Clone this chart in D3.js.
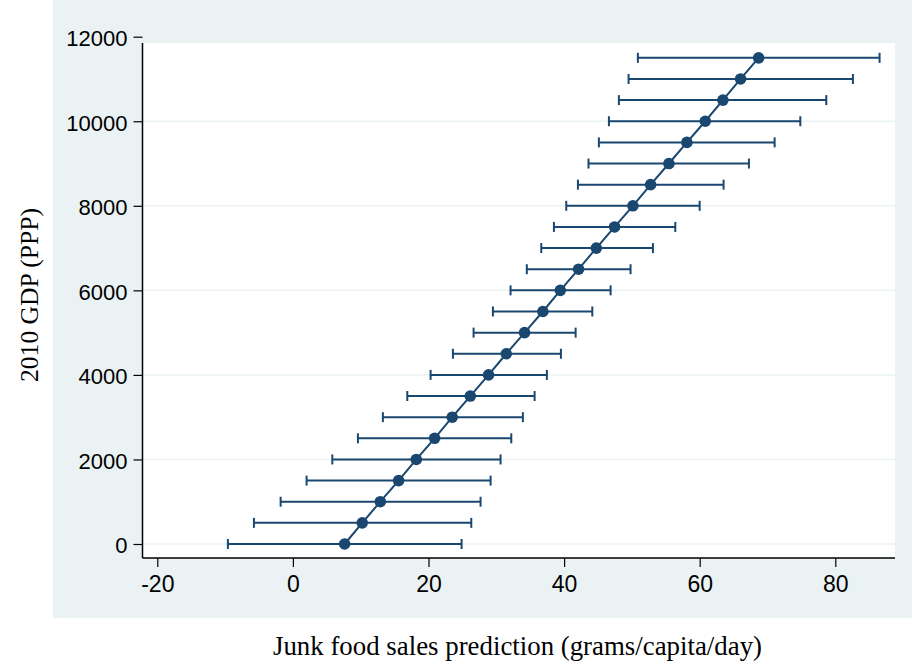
<!DOCTYPE html>
<html><head><meta charset="utf-8">
<script src="https://cdn.jsdelivr.net/npm/d3@7"></script>
<style>body{margin:0;background:#fff}svg{display:block}</style>
</head><body>
<svg id="c" width="912" height="665"></svg>
<script>
const gdp = [0,500,1000,1500,2000,2500,3000,3500,4000,4500,5000,5500,6000,6500,7000,7500,8000,8500,9000,9500,10000,10500,11000,11500];
const pred = [7.63,10.23,12.89,15.59,18.2,20.9,23.5,26.16,28.86,31.47,34.17,36.87,39.44,42.14,44.75,47.45,50.15,52.76,55.46,58.11,60.82,63.42,66.03,68.69];
const lower = [-9.59,-5.75,-1.81,2.02,5.81,9.59,13.27,16.87,20.31,23.6,26.65,29.5,32.1,34.5,36.63,38.5,40.32,42.04,43.6,45.13,46.61,48.08,49.51,50.88];
const upper = [24.88,26.31,27.68,29.16,30.63,32.21,33.92,35.65,37.46,39.53,41.7,44.16,46.86,49.8,53.1,56.4,59.99,63.52,67.26,71.05,74.84,78.67,82.6,86.53];
const xTicks = [-20,0,20,40,60,80];
const yTicks = [0,2000,4000,6000,8000,10000,12000];
const xTitle = "Junk food sales prediction (grams/capita/day)";
const yTitle = "2010 GDP (PPP)";

const data = gdp.map((g,i)=>({g, p:pred[i], lo:lower[i], hi:upper[i]}));
const navy = "#1a476f", bg = "#eaf2f3";
const svg = d3.select("#c");
const plot = {l:142.5, r:895, t:43, b:558};

svg.append("rect").attr("x",53).attr("y",0).attr("width",859).attr("height",618).attr("fill",bg);
svg.append("rect").attr("x",plot.l).attr("y",plot.t).attr("width",plot.r-plot.l).attr("height",plot.b-plot.t).attr("fill","#fff");

const x = d3.scaleLinear().domain([-20,80]).range([157.3,835.3]);
const y = d3.scaleLinear().domain([0,12000]).range([544,36.7]);

// gridlines
svg.append("g").selectAll("line").data(yTicks.filter(v=>y(v)>plot.t)).join("line")
  .attr("x1",plot.l).attr("x2",plot.r).attr("y1",d=>y(d)).attr("y2",d=>y(d))
  .attr("stroke",bg).attr("stroke-width",1.5);

// axes
const xa = svg.append("g").attr("transform",`translate(0,${plot.b})`)
  .call(d3.axisBottom(x).tickValues(xTicks).tickSize(9).tickPadding(9).tickFormat(d=>String(d)));
const ya = svg.append("g").attr("transform",`translate(${plot.l},0)`)
  .call(d3.axisLeft(y).tickValues(yTicks).tickSize(9).tickPadding(6).tickFormat(d=>String(d)));
[xa,ya].forEach(a=>{
  a.select(".domain").remove();
  a.selectAll(".tick line").attr("stroke","#000").attr("stroke-width",1.2);
  a.selectAll(".tick text").attr("font-family","'Liberation Sans', Arial, sans-serif").attr("fill","#000");
});
xa.selectAll(".tick text").attr("font-size",23);
ya.selectAll(".tick text").attr("font-size",22).attr("dy","0.4em");
svg.append("line").attr("x1",plot.l).attr("x2",plot.l).attr("y1",plot.t).attr("y2",plot.b).attr("stroke","#000").attr("stroke-width",1.5);
svg.append("line").attr("x1",plot.l).attr("x2",plot.r).attr("y1",plot.b).attr("y2",plot.b).attr("stroke","#000").attr("stroke-width",1.5);

// error bars
const eb = svg.append("g").attr("stroke",navy).attr("stroke-width",2).attr("fill","none");
eb.selectAll("line.h").data(data).join("line").attr("class","h")
  .attr("x1",d=>x(d.lo)).attr("x2",d=>x(d.hi)).attr("y1",d=>y(d.g)).attr("y2",d=>y(d.g));
eb.selectAll("line.cl").data(data).join("line").attr("class","cl")
  .attr("x1",d=>x(d.lo)).attr("x2",d=>x(d.lo)).attr("y1",d=>y(d.g)-5).attr("y2",d=>y(d.g)+5);
eb.selectAll("line.cr").data(data).join("line").attr("class","cr")
  .attr("x1",d=>x(d.hi)).attr("x2",d=>x(d.hi)).attr("y1",d=>y(d.g)-5).attr("y2",d=>y(d.g)+5);

// connecting line
svg.append("path").datum(data).attr("fill","none").attr("stroke",navy).attr("stroke-width",2)
  .attr("d",d3.line().x(d=>x(d.p)).y(d=>y(d.g)));
svg.append("g").selectAll("circle").data(data).join("circle")
  .attr("cx",d=>x(d.p)).attr("cy",d=>y(d.g)).attr("r",5.8).attr("fill",navy);

// titles
svg.append("text").attr("x",517.5).attr("y",655).attr("text-anchor","middle")
  .attr("font-family","'Liberation Serif', 'Times New Roman', serif").attr("font-size",26.5)
  .attr("textLength",489).attr("lengthAdjust","spacingAndGlyphs").text(xTitle);
svg.append("text").attr("transform",`translate(38,295) rotate(-90)`).attr("text-anchor","middle")
  .attr("font-family","'Liberation Serif', 'Times New Roman', serif").attr("font-size",26)
  .attr("textLength",174).attr("lengthAdjust","spacingAndGlyphs").text(yTitle);
</script>
</body></html>
